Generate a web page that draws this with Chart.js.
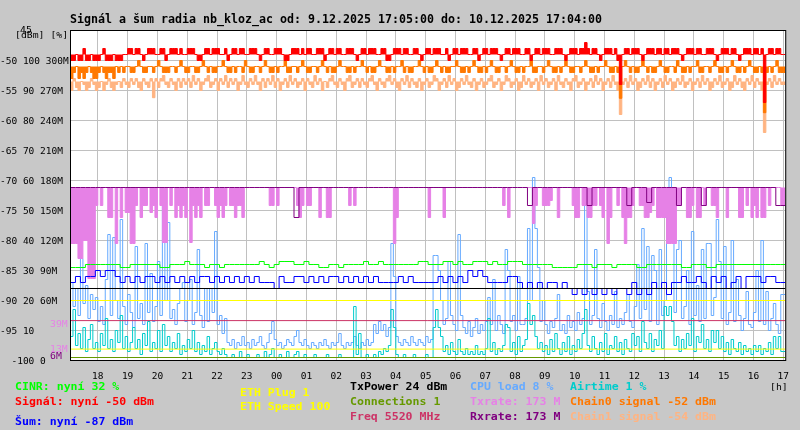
<!DOCTYPE html>
<html>
<head>
<meta charset="utf-8">
<script src="https://cdn.jsdelivr.net/npm/chart.js@4.4.1/dist/chart.umd.min.js"></script>
<style>html,body{margin:0;padding:0;background:#c8c8c8;}canvas{display:block;}</style>
</head>
<body>
<canvas id="c" width="800" height="430"></canvas>
<script>
// ---------- text ----------
const titleText = 'Signál a šum radia nb_kloz_ac od: 9.12.2025 17:05:00 do: 10.12.2025 17:04:00';

// ---------- axes ----------
// minutes after 17:05 where each full hour falls
const hourTicks = [55,115,175,235,295,355,415,475,535,595,655,715,775,835,895,955,1015,1075,1135,1195,1255,1315,1375,1435];
const hourLabels = ['18','19','20','21','22','23','00','01','02','03','04','05','06','07','08','09','10','11','12','13','14','15','16','17'];
const dbmTicks = [-100,-95,-90,-85,-80,-75,-70,-65,-60,-55,-50];
const dbmTickLabels = ['  -100 0','-95 10','-90 20 60M','-85 30 90M','-80 40 120M','-75 50 150M','-70 60 180M','-65 70 210M','-60 80 240M','-55 90 270M','-50 100 300M'];

// ---------- constant levels (percent axis) ----------
const ethSpeedPct = 20;
const ethPlugPct = 3.8;
const txPowerPct = 24;
const connectionsPct = 1;
const freqPct = 13.3;

// ---------- typical (base) levels of the banded series ----------
const signalBase = -49;
const chain0Base = -51;
const chain1Base = -53.5;
const txRateBase = 173;

// ---------- 5-minute series (288 samples) ----------
const signalDbm = [
-47,-50,-50,-49,-50,-50,-48,-50,-50,-49,-50,-50,-50,-49,-48,-50,-50,-50,-49,-50,-50,-50,-49,-49,
-48,-48,-49,-48,-48,-49,-50,-49,-48,-48,-48,-49,-49,-48,-48,-50,-49,-48,-48,-48,-49,-48,-49,-49,
-48,-48,-48,-49,-50,-50,-49,-48,-48,-49,-48,-48,-48,-49,-49,-48,-50,-49,-48,-48,-49,-48,-48,-49,
-49,-48,-48,-48,-49,-50,-49,-48,-48,-49,-49,-48,-48,-48,-49,-50,-50,-49,-48,-48,-48,-49,-48,-49,
-48,-48,-49,-49,-48,-48,-48,-50,-49,-48,-48,-49,-48,-48,-49,-49,-48,-48,-48,-49,-50,-49,-48,-48,
-49,-48,-48,-48,-49,-49,-48,-48,-50,-50,-49,-48,-48,-48,-49,-48,-48,-49,-49,-48,-48,-49,-50,-49,
-48,-48,-49,-48,-48,-48,-49,-49,-48,-50,-49,-48,-48,-49,-48,-48,-48,-49,-49,-48,-48,-50,-49,-48,
-48,-49,-48,-48,-48,-49,-50,-49,-48,-48,-49,-48,-48,-48,-49,-49,-48,-48,-50,-49,-48,-48,-49,-48,
-48,-48,-49,-49,-48,-48,-48,-49,-50,-49,-48,-48,-48,-49,-48,-48,-47,-48,-49,-48,-48,-49,-50,-49,
-48,-48,-48,-49,-48,-50,-54,-49,-48,-48,-49,-48,-48,-48,-49,-50,-49,-48,-48,-48,-49,-48,-48,-49,
-48,-48,-49,-48,-48,-48,-49,-50,-49,-48,-48,-48,-49,-48,-48,-49,-49,-48,-48,-48,-49,-50,-49,-48,
-48,-48,-49,-48,-48,-49,-50,-49,-48,-48,-48,-49,-48,-48,-49,-48,-57,-49,-48,-48,-49,-48,-48,-49];

const chain0Dbm = [
-52,-53,-52,-51,-53,-52,-53,-52,-51,-52,-53,-53,-52,-51,-52,-53,-52,-52,-53,-51,-52,-51,-52,-51,
-51,-52,-52,-51,-50,-51,-52,-52,-51,-51,-52,-51,-50,-51,-52,-52,-52,-51,-51,-52,-51,-50,-51,-52,
-52,-51,-51,-52,-52,-51,-50,-51,-52,-51,-52,-52,-51,-51,-50,-51,-52,-52,-51,-52,-51,-51,-52,-50,
-51,-52,-52,-51,-51,-52,-51,-50,-51,-52,-52,-51,-52,-51,-51,-50,-52,-52,-51,-51,-52,-51,-50,-51,
-52,-52,-51,-51,-52,-51,-50,-51,-52,-51,-52,-52,-51,-50,-51,-51,-52,-52,-51,-52,-51,-51,-50,-51,
-52,-51,-52,-52,-51,-50,-51,-51,-52,-52,-51,-52,-51,-51,-50,-52,-51,-52,-52,-51,-51,-50,-51,-52,
-51,-52,-52,-51,-50,-51,-52,-51,-52,-52,-51,-51,-50,-51,-52,-52,-51,-52,-51,-50,-51,-52,-52,-51,
-52,-51,-50,-51,-52,-52,-51,-51,-52,-51,-50,-51,-52,-52,-51,-52,-51,-51,-50,-52,-52,-51,-51,-52,
-51,-50,-51,-52,-52,-51,-52,-51,-50,-51,-52,-52,-51,-51,-52,-51,-50,-51,-52,-52,-51,-52,-51,-51,
-50,-51,-52,-52,-51,-52,-56.3,-51,-50,-51,-52,-51,-52,-52,-51,-50,-51,-52,-51,-52,-52,-51,-50,-51,
-52,-52,-51,-51,-52,-50,-51,-52,-52,-51,-52,-51,-51,-50,-52,-52,-51,-51,-52,-51,-50,-51,-52,-52,
-51,-52,-51,-50,-51,-52,-52,-51,-52,-51,-50,-51,-52,-52,-51,-52,-58.7,-52,-51,-52,-51,-50,-52,-52];

const chain1Dbm = [
-54,-55,-53,-54.5,-55,-53.5,-54,-55,-54.5,-53,-54,-55,-54.5,-53.5,-55,-54,-53,-54.5,-55,-54,-53.5,-54.5,-53,-54,
-54.5,-53,-54,-53,-54.5,-55,-53,-54,-54.5,-53,-56.2,-53,-54.5,-53,-52.5,-54,-54.5,-53,-54,-55,-53,-54.5,-53,-54,
-53,-54.5,-52.5,-54,-53,-55,-54,-53,-52.5,-54.5,-54,-53,-55,-53,-54,-52.5,-54.5,-53,-54,-53,-55,-54,-52.5,-54,
-54.5,-53,-54,-52.5,-54,-55,-53,-54.5,-53,-54,-52.5,-54.5,-53,-55,-54,-53,-54.5,-52.5,-54,-53,-54.5,-54,-53,-55,
-53,-54,-54.5,-52.5,-54,-53,-55,-53.5,-54.5,-53,-52.5,-54,-54.5,-53,-54,-55,-53,-52.5,-54.5,-54,-53,-54.5,-53,-54,
-54.5,-53,-52.5,-54,-55,-53,-54,-54.5,-53,-52.5,-54,-53,-54.5,-55,-53,-54,-52.5,-54.5,-53,-54,-54.5,-53,-55,-54,
-53,-54.5,-54,-52.5,-53,-55,-54,-53,-54.5,-52.5,-54,-53,-55,-54.5,-53,-54,-52.5,-54,-54.5,-53,-55,-54,-53,-54.5,
-54,-53,-52.5,-54.5,-54,-53,-55,-54,-52.5,-53,-54.5,-54,-53,-55,-54.5,-52.5,-54,-53,-54.5,-54,-53,-55,-52.5,-54,
-53,-54.5,-54,-53,-55,-52.5,-54,-54.5,-53,-54,-55,-53,-52.5,-54.5,-54,-53,-55,-54,-53,-54.5,-52.5,-54,-53,-55,
-54,-53,-54.5,-52.5,-54,-55,-59,-54,-53,-54.5,-52.5,-54,-53,-55,-54.5,-53,-54,-52.5,-54.5,-53,-55,-54,-53,-54.5,
-52.5,-54,-53,-55,-54.5,-53,-54,-52.5,-54.5,-54,-53,-55,-54,-53,-54.5,-52.5,-54,-53,-55,-54.5,-53,-54,-52.5,-54.5,
-54,-53,-55,-54.5,-52.5,-54,-53,-54.5,-55,-53,-54,-52.5,-54.5,-53,-54,-55,-62,-54,-53,-54.5,-52.5,-54,-53,-54];

const txRateM = [
90,117,117,117,102,102,120,120,82,82,82,155,173,155,173,173,143,143,173,117,173,143,173,148,
148,117,117,155,173,143,155,155,173,148,155,143,173,155,118,118,173,155,173,143,155,143,155,143,
173,118,155,143,155,143,173,155,155,173,173,155,143,155,143,155,173,155,155,143,155,155,143,173,
173,173,173,173,173,173,173,173,173,155,155,173,155,173,173,173,173,173,173,173,155,143,155,173,
155,155,173,173,173,143,173,173,143,143,173,173,173,173,173,173,173,155,173,155,173,173,173,173,
173,173,173,173,173,173,173,173,173,173,173,117,143,173,173,173,173,173,173,173,173,173,173,173,
173,143,173,173,173,173,173,143,173,173,173,173,173,173,173,173,173,173,173,173,173,173,173,173,
173,173,173,173,173,173,173,155,173,143,173,173,173,173,173,173,173,173,173,137,155,173,173,155,
155,155,160,173,173,143,173,173,173,173,173,155,143,143,173,155,155,143,143,155,155,173,155,143,
173,117,143,173,173,155,173,143,117,143,143,155,173,173,155,155,143,143,148,155,173,143,143,143,
143,117,117,117,117,155,155,173,173,143,143,155,173,143,143,173,155,173,173,155,155,143,173,173,
173,143,173,173,173,173,143,143,173,155,173,143,155,143,173,143,143,173,155,173,173,173,173,155];

const cpuPct = [
20,26,18,24,15,34,19,25,14,22,17,21,13,18,12,27,42,15,41,20,14,47,18,12,
22,16,11,38,14,19,12,39,16,29,13,18,33,15,55,20,46,14,17,12,19,24,26,13,
20,27,12,16,37,15,11,24,13,24,16,43,12,15,9,14,6,5,7,4,6,5,8,5,
6,4,7,5,6,8,5,4,6,9,13,7,5,6,4,5,7,6,5,8,10,6,5,7,
5,4,6,5,4,6,5,7,5,4,6,5,6,9,5,4,6,5,6,8,5,4,6,5,
7,5,6,12,9,13,10,12,8,11,39,28,8,6,5,7,6,5,8,6,5,7,6,5,
8,6,7,35,35,30,20,12,14,33,15,12,10,42,15,11,9,13,8,11,14,9,12,10,
13,21,12,27,10,15,12,9,37,30,13,15,10,28,12,12,14,44,20,61,44,31,13,20,
12,9,13,11,14,22,10,12,9,15,11,13,10,16,12,14,55,23,12,15,37,14,11,19,
13,10,15,12,23,11,14,12,16,22,13,11,18,32,14,44,17,38,13,35,30,12,37,15,
20,49,61,54,16,37,40,14,18,30,12,43,15,25,13,37,14,39,39,15,21,47,33,14,
38,12,16,40,13,27,15,10,14,23,12,11,16,30,13,40,12,23,10,14,19,12,9,22];

const airtimePct = [
13,8,17,5,9,4,11,3,7,12,4,6,3,9,5,14,4,7,3,10,6,15,4,8,
3,6,11,4,7,2,9,5,13,3,6,4,10,3,12,5,8,3,6,4,9,2,5,3,
7,4,10,3,6,2,5,3,8,2,4,6,3,2,4,2,1,1,2,1,1,3,1,1,
2,1,1,1,2,1,1,3,1,2,4,1,1,2,1,1,3,1,1,2,3,1,1,2,
1,1,1,2,1,1,1,1,2,1,1,1,1,2,1,1,1,1,1,18,2,9,1,1,
2,1,1,2,1,3,2,4,3,5,17,11,2,1,1,2,1,1,1,2,1,1,1,1,
2,1,1,11,17,11,8,3,5,2,6,3,2,7,3,2,4,2,3,2,5,2,3,2,
4,14,3,6,2,4,3,5,12,11,3,6,2,8,3,5,7,19,12,15,8,4,6,3,
5,2,7,3,9,4,2,6,3,8,2,5,3,7,4,9,17,5,3,8,4,2,6,3,
9,2,5,4,8,3,6,2,7,4,3,9,5,8,3,13,6,4,9,3,7,5,10,4,
18,15,18,13,5,8,3,7,4,9,5,14,3,8,6,12,4,7,3,10,6,10,4,8,
3,6,2,7,4,3,6,2,5,3,4,2,5,3,5,2,4,3,6,2,8,4,8,3];

// ---------- 10-minute series (144 samples) ----------
const noiseDbm = [
-86,-87,-86,-87,-86,-86,-85,-86,-85,-85,-86,-87,
-86,-87,-86,-87,-86,-86,-87,-86,-87,-86,-87,-86,
-87,-86,-87,-86,-86,-87,-86,-87,-86,-87,-86,-87,
-86,-87,-86,-87,-87,-87,-88,-86,-87,-87,-86,-86,
-87,-86,-87,-86,-87,-86,-86,-87,-86,-87,-86,-87,
-86,-87,-86,-87,-87,-87,-87,-86,-87,-86,-87,-87,
-87,-87,-87,-86,-87,-86,-87,-86,-87,-85,-86,-85,
-86,-87,-87,-87,-87,-86,-86,-87,-88,-87,-88,-87,
-88,-87,-87,-88,-87,-88,-89,-88,-89,-88,-89,-88,
-89,-88,-89,-88,-88,-89,-87,-89,-88,-89,-87,-88,
-87,-89,-87,-87,-86,-87,-87,-86,-87,-88,-86,-87,
-86,-88,-87,-86,-88,-86,-86,-86,-87,-86,-86,-87];

const cinrPct = [
31,31,31,31,32,32,32,32,32,32,32,31,
31,32,32,32,32,32,32,31,31,32,32,32,
33,32,32,32,31,32,32,31,32,32,32,32,
32,32,32,33,32,31,32,33,33,33,32,32,
33,32,32,31,31,32,32,31,32,32,32,32,
33,32,32,33,32,32,32,32,32,32,32,33,
33,32,32,32,33,33,32,33,32,32,33,33,
33,32,33,32,32,33,33,33,32,32,32,32,
32,32,31,31,31,31,31,32,32,32,31,32,
32,32,31,32,32,32,32,31,31,32,32,32,
32,32,32,32,31,31,32,32,32,31,31,32,
32,32,32,32,32,32,32,32,32,32,32,32];

const rxRateM = [
173,173,173,173,173,173,173,173,173,173,173,173,
173,173,173,173,173,173,173,173,173,173,173,173,
173,173,173,173,173,173,173,173,173,173,173,173,
173,173,173,173,173,173,173,173,173,173,143,173,
173,173,173,173,173,173,173,173,173,173,173,173,
173,173,173,173,173,173,173,173,173,173,173,173,
173,173,173,173,173,173,173,173,173,173,173,173,
173,173,173,173,173,173,173,173,173,155,173,173,
173,173,173,173,173,173,173,173,173,155,173,173,
173,173,173,173,173,155,173,173,173,158,173,173,
173,173,173,155,173,173,173,173,155,173,173,173,
173,173,173,173,173,173,173,173,173,173,173,155];

// ---------- legend texts ----------
const legendItems = [
  ['CINR: nyní 32 %', '#00ff00', 15, 390],
  ['Signál: nyní -50 dBm', '#ff0000', 15, 405],
  ['Šum: nyní -87 dBm', '#0000ff', 15, 425],
  ['ETH Plug 1', '#ffff00', 240, 396],
  ['ETH Speed 100', '#ffff00', 240, 410],
  ['TxPower 24 dBm', '#000000', 350, 390],
  ['Connections 1', '#669900', 350, 405],
  ['Freq 5520 MHz', '#cc3366', 350, 420],
  ['CPU load 8 %', '#66aaff', 470, 390],
  ['Txrate: 173 M', '#e681e6', 470, 405],
  ['Rxrate: 173 M', '#800080', 470, 420],
  ['Airtime 1 %', '#00cccc', 570, 390],
  ['Chain0 signal -52 dBm', '#ff7800', 570, 405],
  ['Chain1 signal -54 dBm', '#ffb482', 570, 420]
];
const smallItems = [
  ['[h]', '#000000', 770, 390],
  ['[dBm] [%]', '#000000', 15, 38],
  ['45', '#000000', 20, 32.5],
  ['39M', '#e681e6', 50, 326.5],
  ['13M', '#e681e6', 50, 351.5],
  ['6M', '#800080', 50, 359]
];

// ---------- helpers ----------
const FONT = "'DejaVu Sans Mono', 'Liberation Mono', monospace";
const pct = v => v / 2 - 100;      // percent axis -> dBm axis
const rate = v => v / 6 - 100;     // Mbit axis -> dBm axis
const dbm = v => v;
function pts(values, step, conv) {
  const out = values.map((v, i) => ({x: i * step, y: conv(v)}));
  out.push({x: values.length * step, y: conv(values[values.length - 1])});
  return out;
}
function flat(level) { return [{x: -1, y: level}, {x: 1440, y: level}]; }
function ds(data, color, fillTo) {
  const d = {data, borderColor: color, borderWidth: 1, pointRadius: 0, stepped: 'after', fill: false, tension: 0};
  if (fillTo !== undefined) { d.fill = {value: fillTo}; d.backgroundColor = color; }
  return d;
}
function drawText(ctx, text, x, y, font, color, charW) {
  ctx.save();
  ctx.font = font;
  ctx.fillStyle = color;
  ctx.textAlign = 'left';
  ctx.textBaseline = 'alphabetic';
  const w = ctx.measureText(text).width;
  const s = charW ? (charW * text.length) / w : 1;
  ctx.translate(x, y);
  ctx.scale(s, 1);
  ctx.fillText(text, 0, 0);
  ctx.restore();
}

const decor = {
  id: 'decor',
  beforeDraw(chart) {
    const c = chart.ctx, a = chart.chartArea;
    c.save();
    c.fillStyle = '#c8c8c8';
    c.fillRect(0, 0, chart.width, chart.height);
    c.fillStyle = '#ffffff';
    c.fillRect(a.left, a.top, a.right - a.left, a.bottom - a.top);
    c.restore();
  },
  afterDraw(chart) {
    const c = chart.ctx, a = chart.chartArea;
    c.save();
    c.strokeStyle = '#000000';
    c.lineWidth = 1;
    c.strokeRect(a.left + 0.5, a.top + 0.5, a.right - a.left, a.bottom - a.top);
    c.restore();
    drawText(c, titleText, 70, 22.5, 'bold 12px ' + FONT, '#000000', 7.0);
    legendItems.forEach(([t, col, x, y]) => drawText(c, t, x, y, 'bold 10px ' + FONT, col, 6.95));
    smallItems.forEach(([t, col, x, y]) => drawText(c, t, x, y, '9.5px ' + FONT, col, 5.9));
  }
};

new Chart(document.getElementById('c'), {
  type: 'line',
  data: {
    datasets: [
      ds(flat(pct(ethSpeedPct)), '#ffff00'),
      ds(flat(pct(ethPlugPct)), '#ffff00'),
      ds(flat(pct(txPowerPct)), '#000000'),
      ds(flat(pct(connectionsPct)), '#669900'),
      ds(flat(pct(freqPct)), '#cc3366'),
      ds(pts(cinrPct, 10, pct), '#00ff00'),
      ds(pts(noiseDbm, 10, dbm), '#0000ff'),
      ds(pts(rxRateM, 10, rate), '#800080'),
      ds(pts(txRateM, 5, rate), '#e681e6', rate(txRateBase)),
      ds(pts(signalDbm, 5, dbm), '#ff0000', signalBase),
      ds(pts(chain0Dbm, 5, dbm), '#ff7800', chain0Base),
      ds(pts(chain1Dbm, 5, dbm), '#ffb482', chain1Base),
      ds(pts(airtimePct, 5, pct), '#00cccc'),
      ds(pts(cpuPct, 5, pct), '#66aaff')
    ]
  },
  options: {
    responsive: false,
    animation: false,
    devicePixelRatio: 1,
    parsing: false,
    normalized: true,
    layout: {padding: {left: 0, right: 10, top: 30, bottom: 0}},
    plugins: {legend: {display: false}, tooltip: {enabled: false}, title: {display: false}, filler: {propagate: false}},
    scales: {
      x: {
        type: 'linear', min: -1, max: 1439,
        afterBuildTicks: s => { s.ticks = hourTicks.map(v => ({value: v})); },
        afterFit: s => { s.height = 70; },
        grid: {color: '#c0c0c0', lineWidth: 1, drawTicks: false},
        border: {display: false},
        ticks: {autoSkip: false, maxRotation: 0, minRotation: 0, padding: 11, color: '#000000',
                font: {family: FONT, size: 9.5}, callback: (v, i) => hourLabels[i]}
      },
      y: {
        type: 'linear', min: -100 + 1/12, max: -45 + 1/12,
        afterBuildTicks: s => { s.ticks = dbmTicks.map(v => ({value: v})); },
        afterFit: s => { s.width = 70; },
        grid: {color: '#c0c0c0', lineWidth: 1, drawTicks: false},
        border: {display: false},
        ticks: {autoSkip: false, crossAlign: 'far', padding: 0, labelOffset: 1.5, color: '#000000',
                font: {family: FONT, size: 9.5}, callback: (v, i) => dbmTickLabels[i]}
      }
    }
  },
  plugins: [decor]
});
</script>
</body>
</html>
